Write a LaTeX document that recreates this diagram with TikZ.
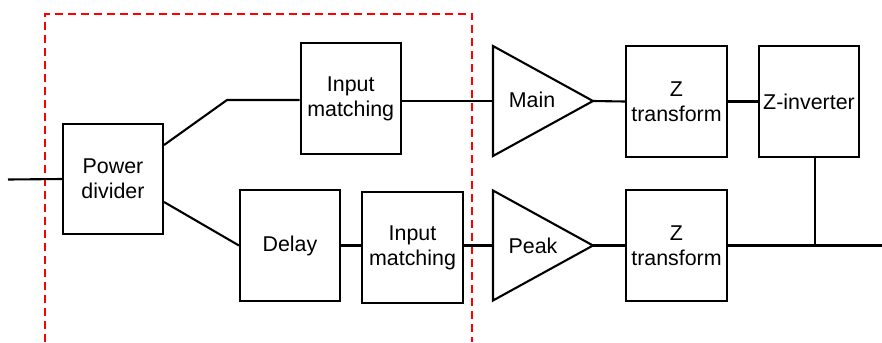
\documentclass[tikz,border=0pt]{standalone}
\usepackage{fontspec}
\setmainfont{Liberation Sans}
\usetikzlibrary{calc}
\begin{document}
\begin{tikzpicture}[x=1bp,y=-1bp,
  wire/.style={line width=2.1bp,line join=miter},
  blk/.style={draw,line width=2.1bp,rectangle,minimum width=100bp,minimum height=111bp,inner sep=0pt,align=center,font=\fontsize{21.4bp}{25bp}\selectfont},
  lbl/.style={inner sep=0pt,align=center,font=\fontsize{21.4bp}{25bp}\selectfont},
  region/.style={draw=red,line width=2bp,dash pattern=on 8bp off 5bp}]
\useasboundingbox (0,0) rectangle (882,342);
% dashed region
\draw[region] (45,342) -- (45,13.5) -- (472,13.5) -- (472,342);
% blocks
\node[blk,minimum height=110bp] (pd) at (113,179) {Power\\divider};
\node[blk] (im1) at (350.7,98.5) {Input\\matching};
\node[blk] (delay) at (290,245.5) {Delay};
\node[blk,minimum width=101bp] (im2) at (412.5,247.5) {Input\\matching};
\node[blk,minimum width=101bp] (ztop) at (676.5,101.5) {Z\\transform};
\node[blk] (zinv) at (809,101.5) {Z-inverter};
\node[blk,minimum width=101bp] (zbot) at (676.5,245.5) {Z\\transform};
% amplifiers
\coordinate (mainin) at (493,101);
\coordinate (mainout) at (593,101);
\coordinate (peakin) at (493,245.5);
\coordinate (peakout) at (593,245.5);
\draw[wire] (493,46) -- (mainout) -- (493,156) -- cycle;
\draw[wire] (493,190.5) -- (peakout) -- (493,300.5) -- cycle;
\node[lbl] (main) at (532,100) {Main};
\node[lbl] (peak) at (533,246) {Peak};
% connectors
\coordinate (in) at (8,179.5);
\coordinate (bend) at (227,100);
\coordinate (out) at (882,245.5);
\draw[wire] (in) -- (pd.west);
\draw[wire] ([yshift=34bp]pd.east) -- (bend) -- (bend -| im1.west);
\draw[wire] ([yshift=-23bp]pd.east) -- (delay.west);
\draw[wire] (delay.east) -- (delay.east -| im2.west);
\draw[wire] (mainin -| im1.east) -- (mainin);
\draw[wire] (peakin -| im2.east) -- (peakin);
\draw[wire] (mainout) -- (ztop.west);
\draw[wire] (ztop.east) -- (zinv.west);
\draw[wire] (peakout) -- (zbot.west);
\draw[wire] (zbot.east) -- (out);
\draw[wire] ([xshift=6.3bp]zinv.south) -- ([xshift=6.3bp]zinv.south |- out);
\end{tikzpicture}
\end{document}
